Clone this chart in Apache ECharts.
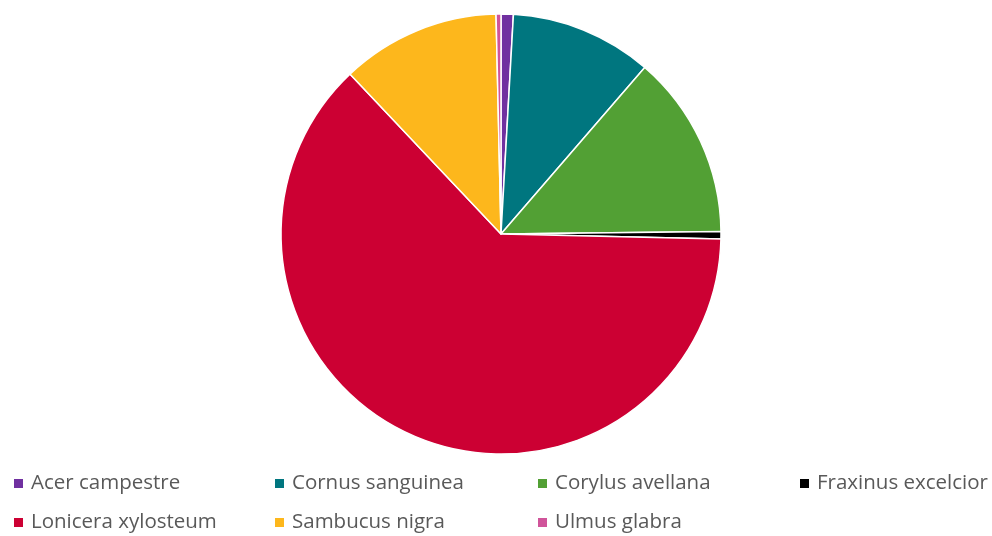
<!DOCTYPE html>
<html>
<head>
<meta charset="utf-8">
<script src="https://cdn.jsdelivr.net/npm/echarts@6/dist/echarts.min.js"></script>
<style>
  html, body { margin: 0; padding: 0; background: #ffffff; }
  #chart { width: 992px; height: 536px; }
</style>
</head>
<body>
<div id="chart"></div>
<script>
// Shrub species counts
const species = [
  'Acer campestre',
  'Cornus sanguinea',
  'Corylus avellana',
  'Fraxinus excelcior',
  'Lonicera xylosteum',
  'Sambucus nigra',
  'Ulmus glabra'
];
const counts = [5, 58, 75, 3, 348, 65, 2];
const colors = ['#7030A0', '#00767F', '#52A034', '#000000', '#CC0033', '#FDB71C', '#D0549A'];

// legend grid positions (column, row)
const legendCols = [12, 273, 536, 798];
const legendRows = [473, 512];

const legends = species.map((name, i) => ({
  data: [name],
  left: legendCols[i % 4],
  top: legendRows[Math.floor(i / 4)],
  orient: 'horizontal',
  icon: 'rect',
  itemWidth: 11,
  itemHeight: 11,
  itemGap: 0,
  padding: 0,
  textStyle: {
    fontFamily: 'Open Sans',
    fontSize: 20.5,
    color: '#595959',
    padding: [0, 0, 0, 2]
  }
}));

const chart = echarts.init(document.getElementById('chart'), null, { renderer: 'canvas' });
chart.setOption({
  animation: false,
  color: colors,
  legend: legends,
  series: [{
    type: 'pie',
    center: [501, 234],
    radius: 220,
    startAngle: 90,
    clockwise: true,
    label: { show: false },
    labelLine: { show: false },
    emphasis: { disabled: true },
    itemStyle: { borderColor: '#ffffff', borderWidth: 1.5 },
    data: species.map((name, i) => ({ name, value: counts[i] }))
  }]
});
</script>
</body>
</html>
